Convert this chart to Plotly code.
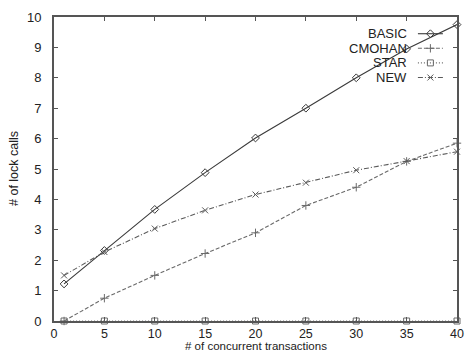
import plotly.graph_objects as go

x_vals = [1, 5, 10, 15, 20, 25, 30, 35, 40]
basic = [1.22, 2.32, 3.67, 4.88, 6.02, 7.0, 8.0, 8.95, 9.75]
cmohan = [0.0, 0.75, 1.5, 2.22, 2.9, 3.8, 4.4, 5.25, 5.85]
star = [0, 0, 0, 0, 0, 0, 0, 0, 0]
new = [1.5, 2.27, 3.04, 3.64, 4.16, 4.55, 4.96, 5.26, 5.57]

series_names = ["BASIC", "CMOHAN", "STAR", "NEW"]
series_vals = [basic, cmohan, star, new]
symbols = ["diamond-open", "cross-thin-open", "square-open", "x-thin-open"]
line_colors = ["#3a3a3a", "#6a6a6a", "#6a6a6a", "#5a5a5a"]
dashes = ["solid", "4px,2px", "1px,2px", "5px,2px,1px,2px"]

x_ticks = [0, 5, 10, 15, 20, 25, 30, 35, 40]
y_ticks = list(range(0, 11))

font = "Liberation Sans, Arial, sans-serif"

fig = go.Figure()
for name, vals, sym, col, dsh in zip(series_names, series_vals, symbols, line_colors, dashes):
    fig.add_trace(go.Scatter(
        x=x_vals, y=vals, mode="lines+markers", name=name,
        line=dict(color=col, width=1.1, dash=dsh),
        marker=dict(symbol=sym, size=6, color=col, line=dict(width=1, color=col)),
        showlegend=False, xaxis="x", yaxis="y", cliponaxis=False,
    ))

# custom legend (gnuplot style: label right-aligned, sample to the right)
leg_y = [0.945, 0.897, 0.849, 0.801]
for i, (name, sym, col, dsh) in enumerate(zip(series_names, symbols, line_colors, dashes)):
    fig.add_trace(go.Scatter(
        x=[0.903, 0.965], y=[leg_y[i], leg_y[i]], mode="lines",
        line=dict(color=col, width=1.1, dash=dsh), showlegend=False,
        xaxis="x2", yaxis="y2", hoverinfo="skip",
    ))
    fig.add_trace(go.Scatter(
        x=[0.934], y=[leg_y[i]], mode="markers",
        marker=dict(symbol=sym, size=6, color=col, line=dict(width=1, color=col)),
        showlegend=False, xaxis="x2", yaxis="y2", hoverinfo="skip",
    ))
    fig.add_annotation(
        x=0.880, y=leg_y[i], xref="x2", yref="y2", text=name, showarrow=False,
        xanchor="right", yanchor="middle", font=dict(family=font, size=13, color="#222"),
    )

# axis titles as annotations (keeps the plot frame fixed)
fig.add_annotation(x=0.5, y=0, xref="paper", yref="paper", yshift=-18,
                   text="# of concurrent transactions", showarrow=False,
                   xanchor="center", yanchor="top", borderpad=0,
                   font=dict(family=font, size=11.5, color="#222"))
fig.add_annotation(x=0, y=0.5, xref="paper", yref="paper", xshift=-31,
                   text="# of lock calls", showarrow=False, textangle=-90,
                   xanchor="right", yanchor="middle",
                   font=dict(family=font, size=12.5, color="#222"))

axis_common = dict(
    showgrid=False, zeroline=False, showline=True, linecolor="#555", linewidth=2,
    mirror="ticks", ticks="inside", ticklen=4, tickcolor="#555", tickwidth=1,
    automargin=False,
)

fig.update_layout(
    width=466, height=354,
    margin=dict(l=54, r=9, t=17, b=33),
    paper_bgcolor="white", plot_bgcolor="white",
    showlegend=False,
    xaxis=dict(range=[0, 40], tickvals=x_ticks, ticktext=[str(v) for v in x_ticks],
               ticklabelstandoff=0, tickfont=dict(family=font, size=12.5, color="#222"),
               **axis_common),
    yaxis=dict(range=[0, 10], tickvals=y_ticks, ticktext=[str(v) for v in y_ticks],
               ticklabelstandoff=8, tickfont=dict(family=font, size=13, color="#222"),
               **axis_common),
    xaxis2=dict(range=[0, 1], overlaying="x", visible=False, fixedrange=True),
    yaxis2=dict(range=[0, 1], overlaying="y", visible=False, fixedrange=True),
)

fig.write_html("out.html", config={"displayModeBar": False},
               post_script="document.body.style.margin='0';document.body.style.overflow='hidden';")
